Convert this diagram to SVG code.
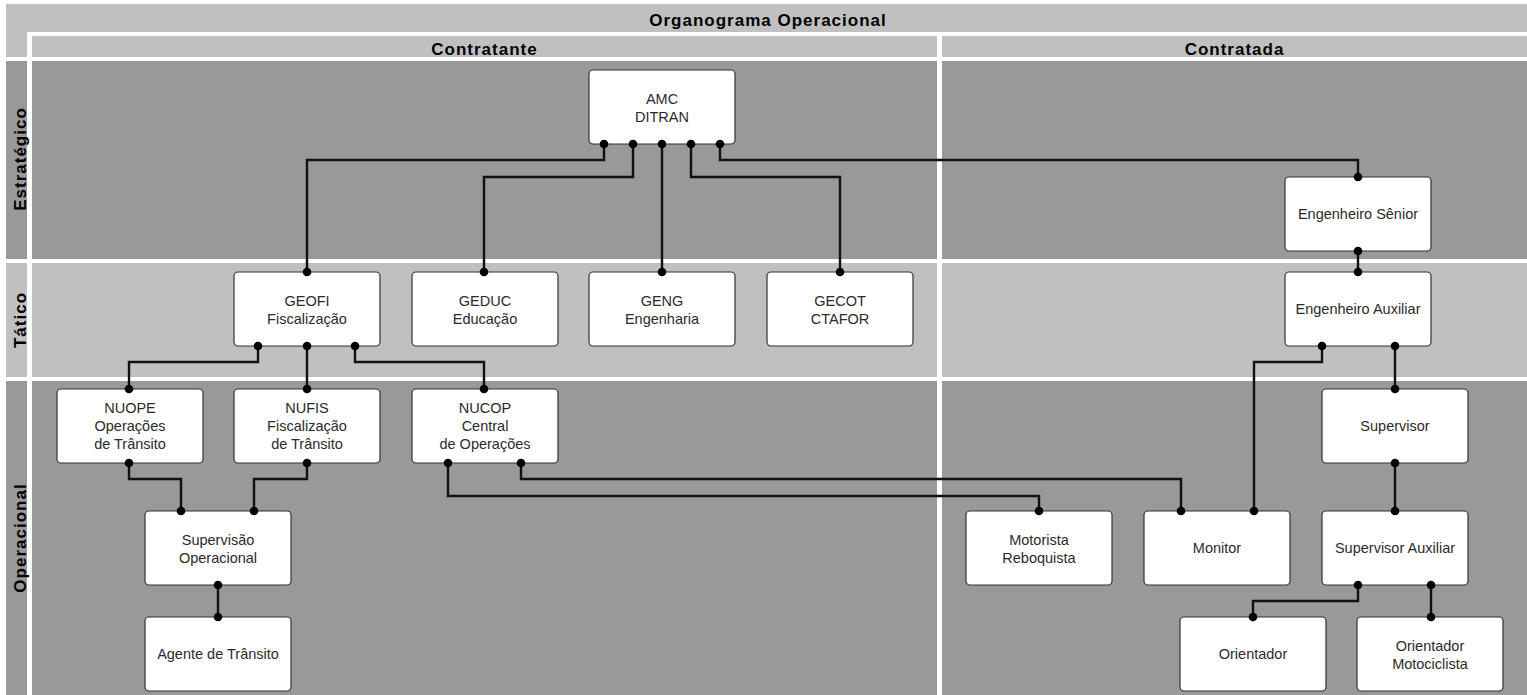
<svg xmlns="http://www.w3.org/2000/svg" width="1527" height="695" viewBox="0 0 1527 695">
<style>
.lt{fill:#c0c0c0}
.dk{fill:#999999}
.hd{font-family:"Liberation Sans",Arial,sans-serif;font-weight:bold;font-size:17px;fill:#000;text-anchor:middle;letter-spacing:1px}
.box{fill:#fff;stroke:#333;stroke-width:1.2}
.t{font-family:"Liberation Sans",Arial,sans-serif;font-size:14.5px;fill:#2b2b2b;text-anchor:middle}
.c{fill:none;stroke:#111;stroke-width:2.4;marker-start:url(#dot);marker-end:url(#dot)}
</style>
<defs>
<marker id="dot" viewBox="-5 -5 10 10" markerWidth="10" markerHeight="10" markerUnits="userSpaceOnUse" refX="0" refY="0"><circle r="4.3" fill="#000"/></marker>
</defs>
<rect width="1527" height="695" fill="#fff"/>
<g id="pool">
<rect class="lt" x="6" y="4" width="1521" height="28"/>
<rect class="lt" x="6" y="4" width="21" height="53"/>
<rect class="lt" x="32" y="36" width="905" height="21"/>
<rect class="lt" x="942" y="36" width="585" height="21"/>
<rect class="dk" x="6" y="61" width="21" height="198"/>
<rect class="dk" x="32" y="61" width="905" height="198"/>
<rect class="dk" x="942" y="61" width="585" height="198"/>
<rect class="lt" x="6" y="263" width="21" height="114"/>
<rect class="lt" x="32" y="263" width="905" height="114"/>
<rect class="lt" x="942" y="263" width="585" height="114"/>
<rect class="dk" x="6" y="381" width="21" height="314"/>
<rect class="dk" x="32" y="381" width="905" height="314"/>
<rect class="dk" x="942" y="381" width="585" height="314"/>
<text class="hd" x="768" y="26">Organograma Operacional</text>
<text class="hd" x="484.5" y="55">Contratante</text>
<text class="hd" x="1234.5" y="55">Contratada</text>
<text class="hd" transform="translate(26,159) rotate(-90)">Estratégico</text>
<text class="hd" transform="translate(26,320) rotate(-90)">Tático</text>
<text class="hd" transform="translate(26,538) rotate(-90)">Operacional</text>
</g>
<g id="amc"><rect class="box" x="589" y="70" width="146" height="74" rx="4"/><text class="t" x="662" y="104">AMC</text><text class="t" x="662" y="122">DITRAN</text></g>
<g id="geofi"><rect class="box" x="234" y="272" width="146" height="74" rx="4"/><text class="t" x="307" y="306">GEOFI</text><text class="t" x="307" y="324">Fiscalização</text></g>
<g id="geduc"><rect class="box" x="412" y="272" width="146" height="74" rx="4"/><text class="t" x="485" y="306">GEDUC</text><text class="t" x="485" y="324">Educação</text></g>
<g id="geng"><rect class="box" x="589" y="272" width="146" height="74" rx="4"/><text class="t" x="662" y="306">GENG</text><text class="t" x="662" y="324">Engenharia</text></g>
<g id="gecot"><rect class="box" x="767" y="272" width="146" height="74" rx="4"/><text class="t" x="840" y="306">GECOT</text><text class="t" x="840" y="324">CTAFOR</text></g>
<g id="engsenior"><rect class="box" x="1285" y="177" width="146" height="74" rx="4"/><text class="t" x="1358" y="219">Engenheiro Sênior</text></g>
<g id="engaux"><rect class="box" x="1285" y="272" width="146" height="74" rx="4"/><text class="t" x="1358" y="314">Engenheiro Auxiliar</text></g>
<g id="nuope"><rect class="box" x="57" y="389" width="146" height="74" rx="4"/><text class="t" x="130" y="413">NUOPE</text><text class="t" x="130" y="431">Operações</text><text class="t" x="130" y="449">de Trânsito</text></g>
<g id="nufis"><rect class="box" x="234" y="389" width="146" height="74" rx="4"/><text class="t" x="307" y="413">NUFIS</text><text class="t" x="307" y="431">Fiscalização</text><text class="t" x="307" y="449">de Trânsito</text></g>
<g id="nucop"><rect class="box" x="412" y="389" width="146" height="74" rx="4"/><text class="t" x="485" y="413">NUCOP</text><text class="t" x="485" y="431">Central</text><text class="t" x="485" y="449">de Operações</text></g>
<g id="supop"><rect class="box" x="145" y="511" width="146" height="74" rx="4"/><text class="t" x="218" y="545">Supervisão</text><text class="t" x="218" y="563">Operacional</text></g>
<g id="agente"><rect class="box" x="145" y="617" width="146" height="74" rx="4"/><text class="t" x="218" y="659">Agente de Trânsito</text></g>
<g id="motorista"><rect class="box" x="966" y="511" width="146" height="74" rx="4"/><text class="t" x="1039" y="545">Motorista</text><text class="t" x="1039" y="563">Reboquista</text></g>
<g id="monitor"><rect class="box" x="1144" y="511" width="146" height="74" rx="4"/><text class="t" x="1217" y="553">Monitor</text></g>
<g id="supervisor"><rect class="box" x="1322" y="389" width="146" height="74" rx="4"/><text class="t" x="1395" y="431">Supervisor</text></g>
<g id="supaux"><rect class="box" x="1322" y="511" width="146" height="74" rx="4"/><text class="t" x="1395" y="553">Supervisor Auxiliar</text></g>
<g id="orientador"><rect class="box" x="1180" y="617" width="146" height="74" rx="4"/><text class="t" x="1253" y="659">Orientador</text></g>
<g id="orientmoto"><rect class="box" x="1357" y="617" width="146" height="74" rx="4"/><text class="t" x="1430" y="651">Orientador</text><text class="t" x="1430" y="669">Motociclista</text></g>
<g id="connectors">
<path class="c" d="M604,144 V160 H307 V272"/>
<path class="c" d="M633,144 V177 H484 V272"/>
<path class="c" d="M662,144 V272"/>
<path class="c" d="M691,144 V177 H840 V272"/>
<path class="c" d="M720,144 V160 H1358 V177"/>
<path class="c" d="M1358,251 V272"/>
<path class="c" d="M1322,346 V362 H1254 V511"/>
<path class="c" d="M1395,346 V389"/>
<path class="c" d="M1395,463 V511"/>
<path class="c" d="M1358,585 V601 H1253 V617"/>
<path class="c" d="M1431,585 V617"/>
<path class="c" d="M258,346 V362 H129 V389"/>
<path class="c" d="M307,346 V389"/>
<path class="c" d="M355,346 V362 H484 V389"/>
<path class="c" d="M129,463 V479 H181 V511"/>
<path class="c" d="M307,463 V479 H254 V511"/>
<path class="c" d="M218,585 V617"/>
<path class="c" d="M448,463 V496 H1039 V511"/>
<path class="c" d="M521,463 V479 H1181 V511"/>
</g>
</svg>
